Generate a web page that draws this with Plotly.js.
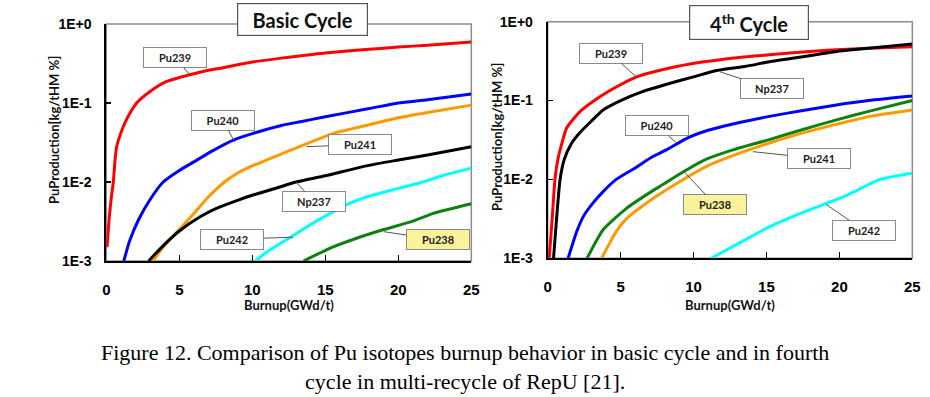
<!DOCTYPE html>
<html>
<head>
<meta charset="utf-8">
<script src="https://cdn.plot.ly/plotly-3.0.1.min.js"></script>
<style>html,body{margin:0;padding:0;background:#fff;}#chart{width:930px;height:397px;}</style>
</head>
<body>
<div id="chart"></div>
<script>
// ---------- Data ----------
// Basic cycle
const b_pu239_x = [0.05,0.2,0.35,0.48,0.6,0.71,0.9,1.16,1.5,2.08,3,4.1,5,6,7,8,10,12,15,18,20,22,25];
const b_pu239_y = [1.5e-3,3.5e-3,6.5e-3,1e-2,1.9e-2,2.8e-2,3.7e-2,5e-2,6.8e-2,0.1,0.14,0.186,0.21,0.235,0.26,0.28,0.33,0.37,0.43,0.48,0.51,0.54,0.59];
const b_pu240_x = [1.2,1.6,2.2,3,3.9,5,6,7.3,8.7,10,12,13.3,15,18,20,22,25];
const b_pu240_y = [1e-3,1.8e-3,3.3e-3,6e-3,1e-2,1.4e-2,1.8e-2,2.5e-2,3.4e-2,4.1e-2,5.2e-2,5.8e-2,6.7e-2,8.5e-2,0.1,0.11,0.13];
const b_pu241_x = [3.2,3.9,5,6,7,8.1,9,10,11,12.8,15.5,18,20,22,25];
const b_pu241_y = [1e-3,1.5e-3,2.5e-3,4e-3,6.5e-3,1e-2,1.3e-2,1.6e-2,1.9e-2,2.6e-2,4.1e-2,5.3e-2,6.5e-2,7.6e-2,9.4e-2];
const b_np237_x = [2.9,3.8,5,6.4,7.5,8.7,10,11.5,13,15,17.8,20,22,25];
const b_np237_y = [1e-3,1.5e-3,2.4e-3,3.6e-3,4.6e-3,5.6e-3,6.8e-3,8.2e-3,1e-2,1.2e-2,1.6e-2,1.9e-2,2.2e-2,2.8e-2];
const b_pu242_x = [10.2,11,12.8,14,15,16.7,18,20,21.7,23,25];
const b_pu242_y = [1e-3,1.3e-3,2.1e-3,2.9e-3,3.7e-3,5.4e-3,6.6e-3,8.3e-3,1e-2,1.2e-2,1.5e-2];
const b_pu238_x = [13.5,15.5,17,19,21,22.4,25];
const b_pu238_y = [1e-3,1.5e-3,1.9e-3,2.5e-3,3.2e-3,4e-3,5.3e-3];

// 4th cycle
const f_pu239_x = [0.1,0.3,0.5,0.7,1.0,1.3,2.2,3.2,4.3,6.1,8,10.7,13,15.2,18,19.8,22,25];
const f_pu239_y = [1e-3,3e-3,1e-2,1.8e-2,3e-2,4.5e-2,7.2e-2,0.1,0.135,0.2,0.25,0.31,0.35,0.38,0.42,0.44,0.46,0.48];
const f_np237_x = [0.4,0.6,0.85,1.14,1.6,2.2,3,3.8,5,6.5,8.4,10,11.6,13.5,15.2,17.5,19.8,22,25];
const f_np237_y = [1e-3,3e-3,1e-2,1.8e-2,2.8e-2,3.9e-2,5.5e-2,7.6e-2,0.1,0.13,0.166,0.2,0.24,0.27,0.31,0.36,0.42,0.46,0.52];
const f_pu240_x = [1.4,2,2.45,3.1,3.8,4.7,6,7.2,8.2,9.5,11,13,15.2,17.5,19.8,22,25];
const f_pu240_y = [1e-3,2.2e-3,3.4e-3,5e-3,7e-3,1e-2,1.4e-2,1.95e-2,2.4e-2,3.3e-2,4.2e-2,5.2e-2,6.3e-2,7.5e-2,8.8e-2,0.1,0.114];
const f_pu238_x = [2.7,3.2,3.8,5.4,7,7.9,9.3,10.7,12.7,15.2,17.5,19.8,22,25];
const f_pu238_y = [1e-3,1.5e-3,2.3e-3,4.3e-3,6.8e-3,8.6e-3,1.25e-2,1.75e-2,2.37e-2,3.2e-2,4.3e-2,5.7e-2,7.3e-2,0.1];
const f_pu241_x = [3.7,4.2,4.7,5.5,6.5,7.5,9.3,11,13.3,15.2,17.5,20,22.1,25];
const f_pu241_y = [1e-3,1.5e-3,2.2e-3,3.3e-3,4.6e-3,6.2e-3,1e-2,1.5e-2,2.2e-2,2.9e-2,3.9e-2,5.1e-2,6.3e-2,7.6e-2];
const f_pu242_x = [11.2,12,13.5,15.2,17,18.9,20.5,22.8,25];
const f_pu242_y = [1e-3,1.2e-3,1.7e-3,2.5e-3,3.5e-3,4.8e-3,6.3e-3,1e-2,1.2e-2];

const yTickVals = [0.001, 0.01, 0.1, 1];
const yTickText = ['1E-3', '1E-2', '1E-1', '1E+0'];
const yGridVals = [0.01, 0.1];
const xTickVals = [0, 5, 10, 15, 20, 25];

// callout labels: [text, x, y, dx(px), dy(px), yellow]
const calloutsB = [
  ['Pu239', 5.73, 0.226, -15, -18, false],
  ['Pu240', 8.8, 0.032, -12, -22, false],
  ['Pu241', 13.7, 0.028, 54, -2, false],
  ['Np237', 13.0, 0.01, 18, 20, false],
  ['Pu242', 12.8, 0.002, -61, 2, false],
  ['Pu238', 19.0, 0.00235, 54, 8, true]
];
const calloutsF = [
  ['Pu239', 6.1, 0.197, -26, -24, false],
  ['Np237', 11.8, 0.232, 52, 17, false],
  ['Pu240', 8.85, 0.029, -20, -17, false],
  ['Pu241', 14.06, 0.0225, 66, 7, false],
  ['Pu238', 9.3, 0.0128, 32, 34, true],
  ['Pu242', 19.1, 0.0048, 38, 26, false]
];
const captionText = 'Figure 12. Comparison of Pu isotopes burnup behavior in basic cycle and in fourth<br>cycle in multi-recycle of RepU [21].';

// ---------- Styling ----------
const C = {red:'#FF0000', blue:'#0000FF', orange:'#FF9900', black:'#000000', cyan:'#00FFFF', green:'#108010'};
const LW = 3;
function tr(x, y, color, xa, ya){
  return {x:x, y:y, type:'scatter', mode:'lines', line:{color:color, width:LW, shape:'spline', smoothing:0.6},
          xaxis:xa, yaxis:ya, hoverinfo:'skip', showlegend:false};
}
const data = [
  tr(b_pu239_x,b_pu239_y,C.red,'x','y'),
  tr(b_pu240_x,b_pu240_y,C.blue,'x','y'),
  tr(b_pu241_x,b_pu241_y,C.orange,'x','y'),
  tr(b_np237_x,b_np237_y,C.black,'x','y'),
  tr(b_pu242_x,b_pu242_y,C.cyan,'x','y'),
  tr(b_pu238_x,b_pu238_y,C.green,'x','y'),
  tr(f_pu239_x,f_pu239_y,C.red,'x2','y2'),
  tr(f_np237_x,f_np237_y,C.black,'x2','y2'),
  tr(f_pu240_x,f_pu240_y,C.blue,'x2','y2'),
  tr(f_pu238_x,f_pu238_y,C.green,'x2','y2'),
  tr(f_pu241_x,f_pu241_y,C.orange,'x2','y2'),
  tr(f_pu242_x,f_pu242_y,C.cyan,'x2','y2')
];

const tickFam = 'Liberation Sans, Arial, sans-serif';
function xax(domain, anchor){
  return {domain:domain, anchor:anchor, range:[0,25], tickvals:xTickVals, ticktext:xTickVals.map(String),
    showline:true, linecolor:'#000', linewidth:2, showgrid:false, zeroline:false,
    ticks:'inside', ticklen:6, tickwidth:1.5, tickcolor:'#000', ticklabelstandoff:14,
    tickfont:{family:tickFam, size:15, color:'#000', weight:'bold'}, fixedrange:true};
}
function yax(domain, anchor){
  return {domain:domain, anchor:anchor, type:'log', range:[-3,0], tickvals:yTickVals, ticktext:yTickText,
    showline:true, linecolor:'#000', linewidth:2, showgrid:false, zeroline:false,
    ticks:'inside', ticklen:5, tickwidth:1.5, tickcolor:'#000', ticklabelstandoff:10,
    tickfont:{family:tickFam, size:14, color:'#000', weight:'bold'}, fixedrange:true};
}

const labFont = {family:'Lato, Carlito, sans-serif', size:11, color:'#222', weight:'bold'};
function callouts(list, xr, yr){
  return list.map(c => ({
    text:c[0], x:c[1], y:Math.log10(c[2]), xref:xr, yref:yr,
    showarrow:true, arrowhead:0, arrowwidth:1, arrowcolor:'#555', ax:c[3], ay:c[4], axref:'pixel', ayref:'pixel',
    standoff:0, startstandoff:0,
    bgcolor:c[5] ? '#FAF39C' : '#FFFFFF', bordercolor:'#8a8a8a', borderwidth:1, borderpad:2,
    width:58, height:15, font:labFont
  }));
}

const titleFont = {family:'Lato, Carlito, sans-serif', size:20, color:'#111', weight:'bold'};
const axTitleFont = {family:'Lato, Carlito, sans-serif', size:13, color:'#111', weight:'bold'};
const capFont = {family:'Liberation Serif, Times New Roman, serif', size:22, color:'#000'};
function pa(o){ return Object.assign({xref:'paper', yref:'paper', xanchor:'center', yanchor:'middle', showarrow:false}, o); }

const annotations = [
  ...callouts(calloutsB, 'x', 'y'),
  ...callouts(calloutsF, 'x2', 'y2'),
  pa({text:'Basic Cycle', x:0.3253, y:0.9504,
   bgcolor:'#fff', bordercolor:'#555', borderwidth:1.2, borderpad:2, width:125, height:27, font:titleFont}),
  pa({text:'4<sup>th</sup> Cycle', x:0.8054, y:0.9433,
   bgcolor:'#fff', bordercolor:'#555', borderwidth:1.2, borderpad:2, width:114, height:29, font:titleFont}),
  pa({text:'PuProduction[kg/tHM %]', x:0.058, y:0.6725, textangle:-90, font:axTitleFont}),
  pa({text:'PuProduction[kg/tHM %]', x:0.5344, y:0.655, textangle:-90, font:axTitleFont}),
  pa({text:'Burnup(GWd/t)', x:0.3108, y:0.2317, font:axTitleFont}),
  pa({text:'Burnup(GWd/t)', x:0.785, y:0.2317, font:axTitleFont}),
  pa({text:captionText, x:0.5, y:1 - 366.5/397, align:'center', font:capFont})
];

const frame = (xr, yr) => ({type:'rect', xref:xr + ' domain', yref:yr + ' domain', x0:0, x1:1, y0:0, y1:1,
  line:{color:'#8c8c8c', width:1.5}, layer:'below'});
const grid = (xr, yr, v) => ({type:'line', xref:xr + ' domain', yref:yr, x0:0, x1:1, y0:Math.log10(v), y1:Math.log10(v),
  line:{color:'#000', width:1.6}, layer:'below'});

const layout = {
  width:930, height:397, margin:{l:0, r:0, t:0, b:0},
  paper_bgcolor:'#fff', plot_bgcolor:'#fff', showlegend:false,
  xaxis: xax([0.1143, 0.5068], 'y'),
  yaxis: yax([0.3426, 0.9395], 'x'),
  xaxis2: xax([0.5889, 0.9810], 'y2'),
  yaxis2: yax([0.3494, 0.9453], 'x2'),
  shapes:[frame('x','y'), frame('x2','y2'),
          ...yGridVals.map(v => grid('x','y',v)), ...yGridVals.map(v => grid('x2','y2',v))],
  annotations: annotations
};

Plotly.newPlot('chart', data, layout, {displayModeBar:false, staticPlot:true});
</script>
</body>
</html>
